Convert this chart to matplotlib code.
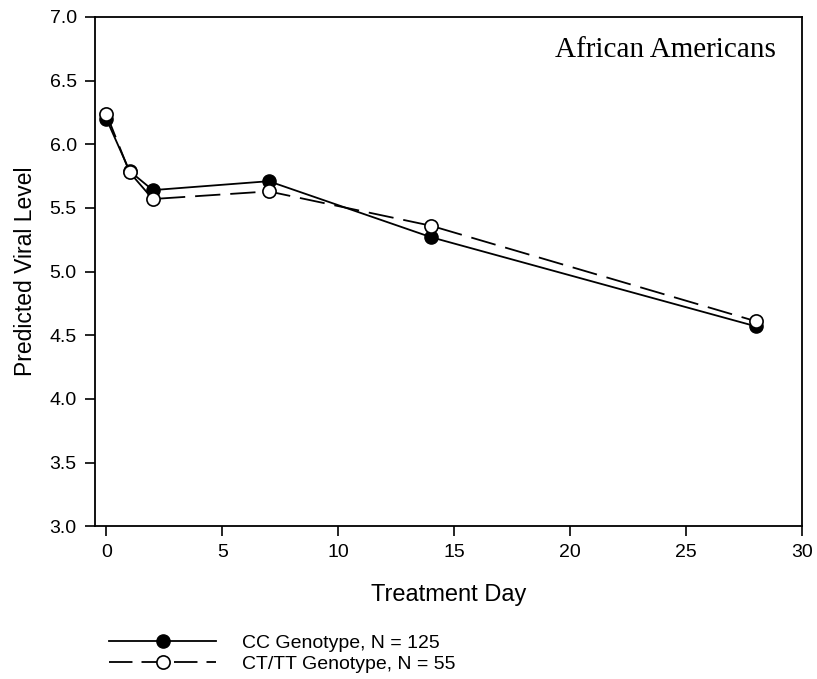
import matplotlib.pyplot as plt
from matplotlib.lines import Line2D

days = [0, 1, 2, 7, 14, 28]
cc_level = [6.20, 5.79, 5.64, 5.71, 5.27, 4.57]
ct_tt_level = [6.24, 5.78, 5.57, 5.63, 5.36, 4.61]
cc_label = "CC Genotype, N = 125"
ct_tt_label = "CT/TT Genotype, N = 55"
x_ticks = [0, 5, 10, 15, 20, 25, 30]
y_ticks = [3.0, 3.5, 4.0, 4.5, 5.0, 5.5, 6.0, 6.5, 7.0]

plt.rcParams["font.family"] = ["Liberation Sans", "DejaVu Sans"]

fig = plt.figure(figsize=(8.17, 6.79), dpi=100)
ax = fig.add_axes([0.116, 0.225, 0.866, 0.75])

dash = (14, 5.5)
ax.plot(days, ct_tt_level, color="black", lw=1.3, dashes=dash,
        marker="o", ms=9.5, mfc="white", mec="black", mew=1.2, zorder=3)
ax.plot(days, cc_level, color="black", lw=1.3,
        marker="o", ms=9.5, mfc="black", mec="black", zorder=2)

ax.set_xlim(-0.5, 30)
ax.set_ylim(3.0, 7.0)
ax.set_xticks(x_ticks)
ax.set_yticks(y_ticks)
ax.set_yticklabels([f"{v:.1f}" for v in y_ticks])
ax.tick_params(direction="out", length=7, width=1.2, labelsize=14, pad=6)
for s in ax.spines.values():
    s.set_linewidth(1.3)

ax.set_xlabel("Treatment Day", fontsize=17, labelpad=16)
ax.set_ylabel("Predicted Viral Level", fontsize=16.5, labelpad=9)

ax.text(0.963, 0.935, "African Americans", transform=ax.transAxes,
        ha="right", va="center", fontsize=21, family="Liberation Serif")

# legend sits under the axes, no frame
handles = [
    Line2D([], [], color="black", lw=1.3, marker="o", ms=9.5,
           mfc="black", mec="black"),
    Line2D([], [], color="black", lw=1.3, dashes=(13, 5), marker="o", ms=9.5,
           mfc="white", mec="black", mew=1.2),
]
fig.legend(handles, [cc_label, ct_tt_label], loc="upper left",
           bbox_to_anchor=(0.134, 0.066), frameon=False, fontsize=14,
           handlelength=5.5, handletextpad=1.3, labelspacing=0.2,
           borderpad=0, borderaxespad=0)

fig.savefig("out.png", dpi=100)
